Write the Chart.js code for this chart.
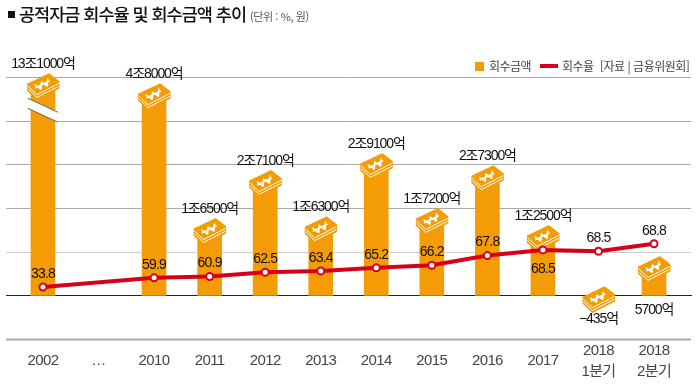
<!DOCTYPE html>
<html lang="ko">
<head>
<meta charset="utf-8">
<title>공적자금 회수율 및 회수금액 추이</title>
<script src="https://cdn.jsdelivr.net/npm/chart.js@4/dist/chart.umd.min.js"></script>
<style>
    html, body { margin: 0; padding: 0; background: #fff; }
    body { width: 700px; height: 387px; overflow: hidden; position: relative; font-family: "Noto Sans CJK KR", sans-serif; color: #222; }
    canvas { position: absolute; left: 0; top: 0; }
    #title { position: absolute; left: 8px; top: 1px; font-size: 17.5px; line-height: 26px; font-weight: 500; letter-spacing: -1px; white-space: nowrap; color: #111; }
    #title small { font-size: 11px; font-weight: 400; color: #555; letter-spacing: -0.4px; margin-left: 0; }
    #title i { display: inline-block; width: 7px; height: 7px; background: #111; margin-right: 4px; vertical-align: 3px; }
    #legend { position: absolute; top: 57px; left: 475px; font-size: 12px; line-height: 18px; color: #444; white-space: nowrap; letter-spacing: -0.5px; }
    #legend span { position: absolute; top: 0; }
    #legend b { position: absolute; display: block; }
</style>
</head>
<body>
<canvas id="chart" width="700" height="387"></canvas>
<div id="title"><i></i>공적자금 회수율 및 회수금액 추이 <small>(단위 : %, 원)</small></div>
<div id="legend">
    <b style="left:0;top:5px;width:9px;height:9px;background:#f39c05"></b>
    <span style="left:14px">회수금액</span>
    <b style="left:65px;top:7px;width:18px;height:4px;background:#d7001a"></b>
    <span style="left:87px">회수율</span>
    <span style="left:125px">[자료 | 금융위원회]</span>
</div>
<script>
const categories = ['2002', '…', '2010', '2011', '2012', '2013', '2014', '2015', '2016', '2017', ['2018', '1분기'], ['2018', '2분기']];

// printed labels
const amountLabels = ['13조1000억', null, '4조8000억', '1조6500억', '2조7100억', '1조6300억', '2조9100억', '1조7200억', '2조7300억', '1조2500억', '−435억', '5700억'];
const rateLabels = ['33.8', null, '59.9', '60.9', '62.5', '63.4', '65.2', '66.2', '67.8', '68.5', '68.5', '68.8'];

// the graphic is not to scale with its labels and the 2002 bar is broken
const barHeights = [4.81, null, 4.58, 1.49, 2.59, 1.53, 2.98, 1.72, 2.70, 1.33, -0.07, 0.62];
const lineHeights = [0.19, null, 0.40, 0.43, 0.53, 0.56, 0.63, 0.69, 0.91, 1.04, 1.01, 1.18];

const gridMin = -1;
const gridMax = 5;

const ORANGE = '#f39c05';
const RED = '#d7001a';
const LABEL_FONT = '14px "Liberation Sans", "Noto Sans CJK KR", sans-serif';
const TICK_FONT = '15px "Liberation Sans", "Noto Sans CJK KR", sans-serif';

function drawBills(ctx, x, y) {
    const face = [[-15, -1], [6, -11], [15.5, -3.5], [-6, 7.5]];
    ctx.save();
    ctx.translate(x, y);
    ctx.lineJoin = 'round';
    ctx.lineCap = 'round';

    // whole stack as one orange shape
    ctx.beginPath();
    ctx.moveTo(face[0][0], face[0][1]);
    ctx.lineTo(face[1][0], face[1][1]);
    ctx.lineTo(face[2][0], face[2][1]);
    ctx.lineTo(face[2][0], face[2][1] + 6);
    ctx.lineTo(face[3][0], face[3][1] + 6);
    ctx.lineTo(face[0][0], face[0][1] + 6);
    ctx.closePath();
    ctx.fillStyle = ORANGE;
    ctx.strokeStyle = ORANGE;
    ctx.lineWidth = 2;
    ctx.fill();
    ctx.stroke();

    // white edges between the sheets
    [1.8, 4.6].forEach(function(dy) {
        ctx.beginPath();
        ctx.moveTo(face[0][0], face[0][1] + dy);
        ctx.lineTo(face[3][0], face[3][1] + dy);
        ctx.lineTo(face[2][0], face[2][1] + dy);
        ctx.strokeStyle = '#fff';
        ctx.lineWidth = 1;
        ctx.stroke();
    });

    // won sign, tilted with the sheet
    ctx.rotate(-0.45);
    ctx.beginPath();
    ctx.moveTo(-7, -3.5);
    ctx.lineTo(-3.5, 2.5);
    ctx.lineTo(0, -3.5);
    ctx.lineTo(3.5, 2.5);
    ctx.lineTo(7, -3.5);
    ctx.moveTo(-7.5, -1);
    ctx.lineTo(7.5, -1);
    ctx.strokeStyle = '#fff';
    ctx.lineWidth = 1.6;
    ctx.stroke();
    ctx.restore();
}

function drawText(ctx, text, x, y, font, color, spacing) {
    ctx.font = font;
    ctx.fillStyle = color;
    ctx.textAlign = 'center';
    ctx.textBaseline = 'middle';
    ctx.letterSpacing = spacing;
    ctx.fillText(text, x, y);
    ctx.letterSpacing = '0px';
}

// gridlines run past the plot area on both sides, so they are drawn here
const gridPlugin = {
    id: 'gridLines',
    beforeDatasetsDraw(chart) {
        const ctx = chart.ctx;
        const y = chart.scales.y;
        ctx.save();
        y.ticks.forEach(function(tick) {
            const py = Math.round(y.getPixelForValue(tick.value)) + 0.5;
            ctx.beginPath();
            ctx.moveTo(6, py);
            ctx.lineTo(tick.value === 0 ? 692 : 691, py);
            ctx.strokeStyle = tick.value === 0 ? '#222' : (tick.value === 1 ? '#cfcfcf' : '#aaa');
            ctx.lineWidth = tick.value === gridMin ? 2 : (tick.value === 0 ? 1.2 : 1);
            ctx.stroke();
        });
        ctx.restore();
    }
};

// break mark and bill icons go on top of the bars but under the red line
const barDecorPlugin = {
    id: 'barDecor',
    afterDatasetDraw(chart, args) {
        if (args.index !== 0) return;
        const ctx = chart.ctx;
        const bars = chart.getDatasetMeta(0).data;
        const y = chart.scales.y;

        const bx = bars[0].x;
        const top = y.getPixelForValue(barHeights[0]);
        ctx.save();
        ctx.beginPath();
        ctx.moveTo(bx - 15, top + 13);
        ctx.lineTo(bx + 15, top + 27);
        ctx.lineTo(bx + 15, top + 37);
        ctx.lineTo(bx - 15, top + 23);
        ctx.closePath();
        ctx.fillStyle = '#fff';
        ctx.fill();
        ctx.beginPath();
        ctx.moveTo(bx - 15, top + 13);
        ctx.lineTo(bx + 15, top + 27);
        ctx.moveTo(bx - 15, top + 23);
        ctx.lineTo(bx + 15, top + 37);
        ctx.strokeStyle = '#666';
        ctx.lineWidth = 1;
        ctx.stroke();
        ctx.restore();

        bars.forEach(function(bar, i) {
            if (barHeights[i] === null) return;
            drawBills(ctx, bar.x, y.getPixelForValue(barHeights[i]));
        });
    }
};

const textPlugin = {
    id: 'chartTexts',
    afterDatasetsDraw(chart) {
        const ctx = chart.ctx;
        const x = chart.scales.x;
        const y = chart.scales.y;
        const line = chart.getDatasetMeta(1).data;
        ctx.save();
        categories.forEach(function(cat, i) {
            const px = x.getPixelForValue(i);
            // axis labels, one-line ones sit between the two lines of the others
            if (Array.isArray(cat)) {
                drawText(ctx, cat[0], px, 351, TICK_FONT, '#444', '-0.6px');
                drawText(ctx, cat[1], px, 372, TICK_FONT, '#444', '-0.6px');
            } else {
                drawText(ctx, cat, px, 361, TICK_FONT, '#444', '-0.6px');
            }
            if (barHeights[i] === null) return;

            const barY = y.getPixelForValue(barHeights[i]);
            // the last label hangs under the baseline, the others follow their icon
            const amountY = i === categories.length - 1 ? y.getPixelForValue(0) + 15
                : (barHeights[i] < 0 ? barY + 21 : barY - 21);
            drawText(ctx, amountLabels[i], px, amountY, LABEL_FONT, '#111', '-1.1px');

            // 2017 rate sits under its point to stay clear of the icon
            const rateY = i === 9 ? line[i].y + 19 : line[i].y - 13;
            drawText(ctx, rateLabels[i], px, rateY, LABEL_FONT, '#111', '-0.8px');
        });
        ctx.restore();
    }
};

new Chart(document.getElementById('chart').getContext('2d'), {
    data: {
        labels: categories,
        datasets: [{
            type: 'bar',
            label: '회수금액',
            data: barHeights,
            backgroundColor: ORANGE,
            barThickness: 24,
            order: 2
        }, {
            type: 'line',
            label: '회수율',
            data: lineHeights,
            borderColor: RED,
            borderWidth: 4,
            tension: 0,
            spanGaps: true,
            pointRadius: 3.5,
            pointBorderWidth: 2,
            pointBackgroundColor: '#fff',
            pointBorderColor: RED,
            order: 1
        }]
    },
    options: {
        responsive: false,
        animation: false,
        layout: { padding: { left: 15.2, right: 18.2, top: 77, bottom: 48 } },
        plugins: { legend: { display: false }, tooltip: { enabled: false } },
        scales: {
            x: { display: false },
            y: { display: false, min: gridMin, max: gridMax, ticks: { stepSize: 1 } }
        }
    },
    plugins: [gridPlugin, barDecorPlugin, textPlugin]
});
</script>
</body>
</html>
